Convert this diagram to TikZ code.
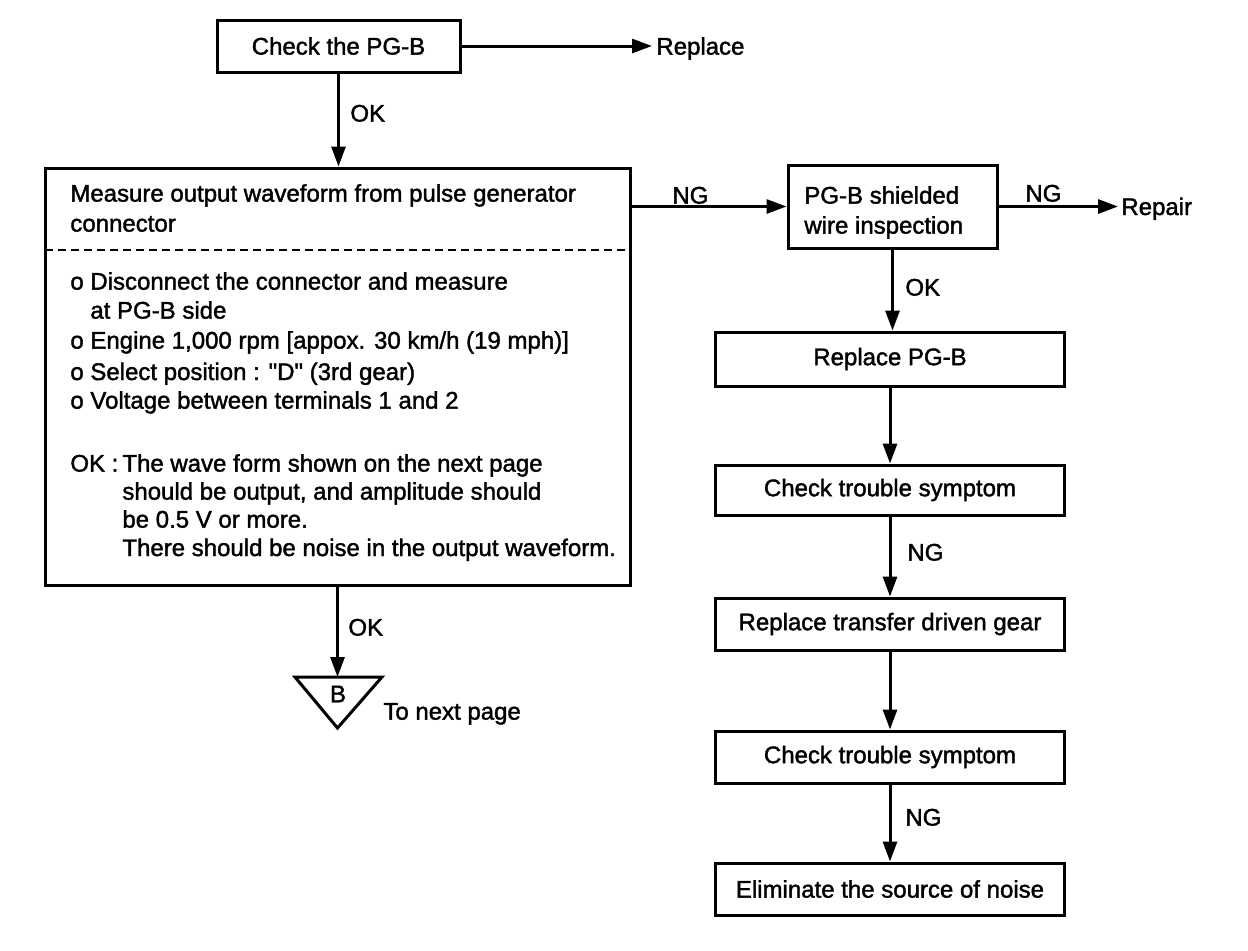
\documentclass[tikz,border=0pt]{standalone}
\usepackage{fontspec}
\setmainfont{Liberation Sans}[FakeBold=1.6,Ligatures=TeXOff]
\usetikzlibrary{arrows.meta}
\begin{document}
\begin{tikzpicture}[x=0.5pt,y=-0.5pt,
  fnt/.style={font=\fontsize{12}{14.4}\selectfont},
  box/.style={draw,line width=1.5pt,inner sep=0pt,fnt,align=center},
  txt/.style={inner sep=0pt,anchor=base west,fnt},
  arr/.style={line width=1.5pt,-{Triangle[length=10pt,width=7pt]}},
]
\useasboundingbox (0,0) rectangle (1248,950);

% boxes
\node[box,minimum width=121.5pt,minimum height=26pt] (b1) at (338.5,46) {Check the PG-B};
\node[box,minimum width=292.5pt,minimum height=208.5pt] (b2) at (337.5,376.5) {};
\node[box,minimum width=104.5pt,minimum height=41.5pt] (b3) at (892.5,206.5) {};
\node[box,minimum width=174.5pt,minimum height=27pt] (b4) at (890,359) {Replace PG-B};
\node[box,minimum width=174.5pt,minimum height=25pt] (b5) at (890,490) {Check trouble symptom};
\node[box,minimum width=174.5pt,minimum height=26pt] (b6) at (890,624) {Replace transfer driven gear};
\node[box,minimum width=174.5pt,minimum height=26pt] (b7) at (890,757) {Check trouble symptom};
\node[box,minimum width=174.5pt,minimum height=26pt] (b8) at (890,889) {Eliminate the source of noise};

% box 3 text
\node[txt] (t3a) at (804,203.6) {PG-B shielded};
\node[txt] (t3b) at (804,233.6) {wire inspection};

% box 2 text
\node[txt] (t1) at (70,201.6) {Measure output waveform from pulse generator};
\node[txt] (t2) at (70,231.6) {connector};
\coordinate (dl) at (45,250);
\coordinate (dr) at (630,250);
\draw[line width=1pt,dash pattern=on 4pt off 2.5pt] (dl) -- (dr);
\node[txt] (t4) at (70,289.6) {o Disconnect the connector and measure};
\node[txt] (t5) at (90,318.6) {at PG-B side};
\node[txt] (t6) at (70,348.6) {o Engine 1,000 rpm [appox. 30 km/h (19 mph)]};
\node[txt] (t7) at (70,380) {o Select position : "D" (3rd gear)};
\node[txt] (t8) at (70,408.6) {o Voltage between terminals 1 and 2};
\node[txt] (t9) at (70,471.6) {OK :};
\node[txt] (t10) at (122,471.6) {The wave form shown on the next page};
\node[txt] (t11) at (122,499.6) {should be output, and amplitude should};
\node[txt] (t12) at (122,527.6) {be 0.5 V or more.};
\node[txt] (t13) at (122,556) {There should be noise in the output waveform.};

% end points
\coordinate (rp) at (652,46);
\node[txt] (replace) at (656,54.6) {Replace};
\coordinate (rr) at (1118,206.5);
\node[txt] (repair) at (1121,215) {Repair};

% triangle B
\coordinate (tl) at (295,677);
\coordinate (tr) at (382,677);
\coordinate (tt) at (337.5,677);
\coordinate (tb) at (337.5,728);
\draw[line width=1.5pt,line join=miter] (tl) -- (tr) -- (tb) -- cycle;
\node[fnt,inner sep=0pt] (bl) at (338,694) {B};
\node[txt] (nextp) at (383,719.6) {To next page};

% connectors
\draw[arr] (b1.east) -- (rp);
\draw[arr] (b1.south) -- (b1.south |- b2.north);
\draw[arr] (b3.west -| b2.east) -- (b3.west);
\draw[arr] (b3.east) -- (rr);
\draw[arr] (b3.south) -- (b3.south |- b4.north);
\draw[arr] (b4.south) -- (b5.north);
\draw[arr] (b5.south) -- (b6.north);
\draw[arr] (b6.south) -- (b7.north);
\draw[arr] (b7.south) -- (b8.north);
\draw[arr] (b2.south) -- (tt);

% labels
\node[txt] (l1) at (350,121.6) {OK};
\node[txt] (l2) at (672,203.6) {NG};
\node[txt] (l3) at (1025,201.6) {NG};
\node[txt] (l4) at (905,295.6) {OK};
\node[txt] (l5) at (348,635.6) {OK};
\node[txt] (l6) at (907,560.6) {NG};
\node[txt] (l7) at (905,825.6) {NG};
\end{tikzpicture}
\end{document}
